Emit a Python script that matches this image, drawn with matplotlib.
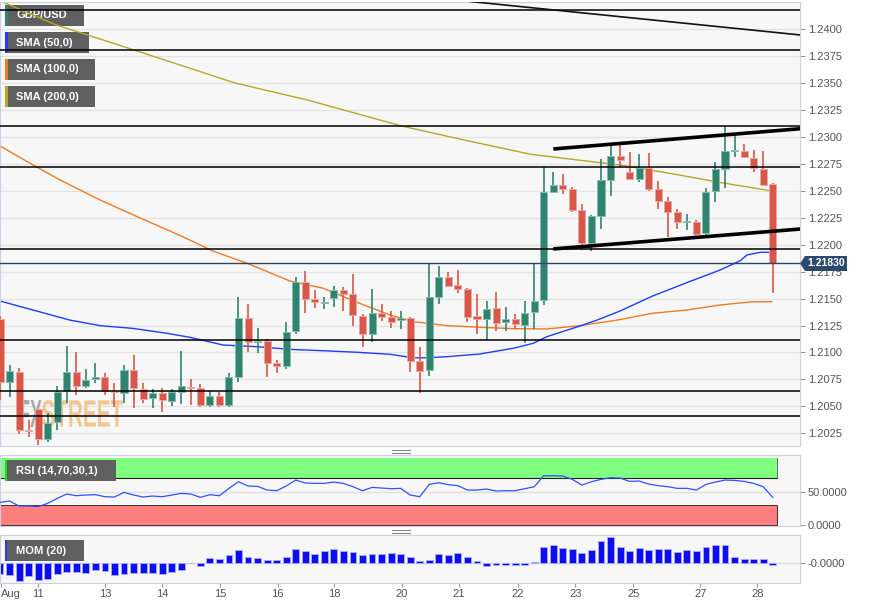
import matplotlib
matplotlib.use('Agg')
import pandas as pd
import matplotlib.pyplot as plt
from matplotlib.patches import Rectangle, Polygon, PathPatch
from matplotlib.lines import Line2D
from matplotlib.textpath import TextPath
from matplotlib.font_manager import FontProperties
from matplotlib.transforms import Affine2D

plt.rcParams['font.family'] = ['Liberation Sans', 'DejaVu Sans']
plt.rcParams['font.size'] = 8

W, H = 871, 608

# GBP/USD bougies 4h (open, high, low, close)
opens = [1.21311, 1.20729, 1.20822, 1.20278, 1.20475, 1.20197, 1.20357, 1.20645, 1.20816, 1.20692,
         1.20751, 1.20770, 1.20640, 1.20627, 1.20837, 1.20661, 1.20575, 1.20621, 1.20552, 1.20633,
         1.20682, 1.20667, 1.20512, 1.20599, 1.20512, 1.20775, 1.21323, 1.21094, 1.21109, 1.20905,
         1.20874, 1.21197, 1.21657, 1.21496, 1.21462, 1.21506, 1.21577, 1.21543, 1.21341, 1.21174,
         1.21366, 1.21326, 1.21301, 1.21317, 1.20921, 1.20837, 1.21512, 1.21703, 1.21626, 1.21589,
         1.21339, 1.21311, 1.21416, 1.21280, 1.21311, 1.21258, 1.21373, 1.21487, 1.22492, 1.22557,
         1.22515, 1.22323, 1.22013, 1.22270, 1.22601, 1.22827, 1.22673, 1.22608, 1.22715, 1.22515,
         1.22406, 1.22301, 1.22208, 1.22208, 1.22106, 1.22502, 1.22700, 1.22870, 1.22873, 1.22802,
         1.22703, 1.22561]
highs = [1.21339, 1.20884, 1.20859, 1.20373, 1.20475, 1.20441, 1.20692, 1.21060, 1.21002, 1.20844,
         1.20899, 1.20812, 1.20714, 1.20881, 1.20974, 1.20714, 1.20658, 1.20667, 1.20658, 1.21014,
         1.20751, 1.20705, 1.20642, 1.20633, 1.20807, 1.21512, 1.21450, 1.21224, 1.21122, 1.20930,
         1.21280, 1.21698, 1.21756, 1.21580, 1.21518, 1.21617, 1.21605, 1.21728, 1.21354, 1.21586,
         1.21447, 1.21385, 1.21385, 1.21332, 1.21054, 1.21828, 1.21803, 1.21744, 1.21766, 1.21601,
         1.21540, 1.21478, 1.21561, 1.21419, 1.21354, 1.21478, 1.21819, 1.22725, 1.22673, 1.22654,
         1.22539, 1.22376, 1.22276, 1.22793, 1.22923, 1.22929, 1.22864, 1.22840, 1.22849, 1.22595,
         1.22446, 1.22329, 1.22283, 1.22230, 1.22524, 1.22768, 1.23102, 1.23040, 1.22932, 1.22880,
         1.22873, 1.22570]
lows = [1.20559, 1.20587, 1.20243, 1.20215, 1.20141, 1.20172, 1.20280, 1.20534, 1.20605, 1.20667,
        1.20719, 1.20605, 1.20497, 1.20528, 1.20482, 1.20528, 1.20487, 1.20445, 1.20503, 1.20519,
        1.20512, 1.20497, 1.20494, 1.20494, 1.20494, 1.20729, 1.21007, 1.20992, 1.20770, 1.20807,
        1.20844, 1.21169, 1.21364, 1.21416, 1.21401, 1.21419, 1.21385, 1.21246, 1.21048, 1.21094,
        1.21289, 1.21224, 1.21218, 1.20822, 1.20627, 1.20784, 1.21447, 1.21605, 1.21549, 1.21280,
        1.21171, 1.21116, 1.21202, 1.21202, 1.21218, 1.21085, 1.21218, 1.21441, 1.22487, 1.22471,
        1.22307, 1.21951, 1.21942, 1.22143, 1.22455, 1.22725, 1.22601, 1.22585, 1.22502, 1.22329,
        1.22075, 1.22143, 1.22137, 1.22081, 1.22088, 1.22397, 1.22524, 1.22812, 1.22808, 1.22678,
        1.22548, 1.21549]
closes = [1.20726, 1.20828, 1.20280, 1.20271, 1.20197, 1.20348, 1.20636, 1.20816, 1.20692, 1.20744,
          1.20775, 1.20642, 1.20630, 1.20837, 1.20667, 1.20568, 1.20621, 1.20556, 1.20630, 1.20689,
          1.20667, 1.20512, 1.20596, 1.20512, 1.20775, 1.21323, 1.21094, 1.21109, 1.20905, 1.20874,
          1.21193, 1.21657, 1.21499, 1.21466, 1.21469, 1.21580, 1.21546, 1.21345, 1.21174, 1.21366,
          1.21326, 1.21280, 1.21317, 1.20921, 1.20828, 1.21518, 1.21703, 1.21620, 1.21589, 1.21332,
          1.21311, 1.21401, 1.21276, 1.21308, 1.21262, 1.21366, 1.21481, 1.22492, 1.22555, 1.22515,
          1.22323, 1.22013, 1.22267, 1.22601, 1.22827, 1.22787, 1.22608, 1.22715, 1.22515, 1.22409,
          1.22307, 1.22208, 1.22223, 1.22100, 1.22492, 1.22700, 1.22870, 1.22877, 1.22812, 1.22710,
          1.22555, 1.21830]

# Moyennes mobiles (points lus: indice de bougie, prix)
sma50_x = [0, 7.3, 10.5, 13.9, 17.5, 19.9, 23.4, 26.9, 30.4, 33.9, 37.4, 40.9, 43.3, 44.8, 46.9,
           50.3, 53.8, 55.9, 57.3, 60.8, 62.6, 65.0, 68.4, 72.0, 75.5, 77.6, 78.3, 79.7, 80.9]
sma50_y = [1.21478, 1.21301, 1.21249, 1.21224, 1.21178, 1.21141, 1.21069, 1.21054, 1.21029, 1.21016,
           1.21002, 1.20983, 1.20951, 1.20951, 1.20961, 1.20986, 1.21039, 1.21085, 1.21146, 1.21246,
           1.21301, 1.21385, 1.21524, 1.21648, 1.21766, 1.21852, 1.21905, 1.21930, 1.21930]
sma100_x = [0, 3.1, 6.3, 10.5, 14.7, 17.8, 19.9, 22.3, 25.9, 30.4, 33.9, 37.4, 40.9, 43.3, 46.9,
            50.3, 53.8, 57.3, 60.8, 64.7, 68.4, 72.0, 75.5, 78.9, 80.9]
sma100_y = [1.22917, 1.22759, 1.22601, 1.22415, 1.22248, 1.22128, 1.22044, 1.21942, 1.21828, 1.21663,
            1.21596, 1.21466, 1.21348, 1.21286, 1.21249, 1.21234, 1.21221, 1.21218, 1.21249, 1.21301,
            1.21364, 1.21394, 1.21441, 1.21471, 1.21471]
sma200_x = [0, 5.9, 14.7, 24.6, 32.2, 42.1, 48.3, 55.6, 59.7, 65.0, 70.2, 75.5, 80.9]
sma200_y = [1.24263, 1.24040, 1.23789, 1.23502, 1.23344, 1.23102, 1.22979, 1.22840, 1.22796, 1.22740,
            1.22663, 1.22578, 1.22499]

rsi = [34, 36, 28.5, 28.5, 27.5, 32.5, 40, 46.5, 44, 45,
       45.5, 42.5, 42, 49, 45, 42, 43.5, 42.5, 45, 47.5,
       46.5, 41.5, 45.5, 44, 55, 65, 58.5, 58, 52.5, 51.5,
       58.5, 67.5, 63, 62.5, 62.5, 64.5, 62.5, 57.5, 51.5, 56.5,
       55.5, 54.5, 55, 45, 42.5, 61, 63.5, 60.5, 59, 52.5,
       52.5, 54, 51, 51.5, 51.5, 54.5, 57.5, 74, 74, 73.5,
       68.5, 60, 65, 68.5, 71, 70.5, 65.5, 66, 61.5, 59,
       57.5, 55, 55, 52.5, 61, 64.5, 67.5, 67, 65.5, 62.5,
       57.5, 41.5]
mom = [-33, -38, -55, -41, -53, -48, -35, -28, -28, -31,
       -23, -26, -38, -33, -30, -30, -30, -33, -28, -23,
       -2, -11, 13, 10, 22, 37, 17, 12, 9, 7,
       17, 39, 34, 25, 33, 40, 35, 32, 22, 25,
       25, 29, 26, 15, 5, 9, 24, 22, 27, 17,
       5, -9, -6, -6, -8, -8, 1, 45, 52, 44,
       39, 27, 37, 65, 77, 47, 35, 42, 37, 41,
       40, 32, 37, 34, 47, 52, 53, 15, 10, 10,
       10, -8]

# niveaux et lignes de tendance
levels = [1.24176, 1.23808, 1.23100, 1.22719, 1.21958, 1.21116, 1.20640, 1.20410]
trend_x, trend_y = [47.7, 83.9], [1.24272, 1.23947]
chan_x = [58.0, 83.9]
chan_up = [1.22889, 1.23077]
chan_low = [1.21961, 1.22146]
last_price = 1.21830

price_ticks = [1.2025, 1.2050, 1.2075, 1.2100, 1.2125, 1.2150, 1.2175, 1.2200,
               1.2225, 1.2250, 1.2275, 1.2300, 1.2325, 1.2350, 1.2375, 1.2400]
day_pos = [0.1, 4.0, 11.0, 17.0, 23.1, 29.1, 35.0, 42.1, 48.1, 54.3, 60.3, 66.4, 73.4, 79.4]
day_labels = ['Aug', '11', '13', '14', '15', '16', '18', '20', '21', '22', '23', '25', '27', '28']

df = pd.DataFrame({'open': opens, 'high': highs, 'low': lows, 'close': closes})

GREEN, RED = '#30846f', '#d8574a'
BG = '#f7f7f7'
BORDER = '#c9d1e3'
XLIM = (0.0, 83.86)

fig = plt.figure(figsize=(W / 100, H / 100), dpi=100)


def px_axes(x0, y0, x1, y1):
    a = fig.add_axes([x0 / W, 1 - y1 / H, (x1 - x0) / W, (y1 - y0) / H])
    a.set_facecolor(BG)
    for s in a.spines.values():
        s.set_color(BORDER)
    a.set_xlim(*XLIM)
    a.yaxis.tick_right()
    a.tick_params(axis='y', length=3.5, color='#999999', labelcolor='#555555', pad=2, labelsize=8)
    return a


def tag(a, text, x0, x1, y0, y1, stripe):
    a.add_patch(Rectangle((x0 / W, 1 - y1 / H), (x1 - x0) / W, (y1 - y0) / H,
                          transform=fig.transFigure, fc='#5f5f5f', ec='none', zorder=1.5))
    a.add_patch(Rectangle((x0 / W, 1 - y1 / H), 2.5 / W, (y1 - y0) / H,
                          transform=fig.transFigure, fc=stripe, ec='none', zorder=1.6))
    a.text((x0 + 11) / W, 1 - (y0 + y1) / 2 / H, text, transform=fig.transFigure,
           color='white', fontsize=8, fontweight='bold', va='center', zorder=1.7)


# ---- graphique principal
ax = px_axes(0, 2, 800, 446)
ax.set_ylim(1.20132, 1.24253)
ax.set_yticks(price_ticks)
ax.set_yticklabels(['%.4f' % t for t in price_ticks])
ax.set_xticks([])
for t in price_ticks:
    ax.axhline(t, color='#e3e3e3', lw=1, zorder=0.3)

# filigrane FXSTREET
fp = FontProperties(family='Liberation Sans', weight='bold')
for txt, x0, x1, col in [('FX', 20, 42, '#a9a9a9'), ('STREET', 42, 123, '#f2c591')]:
    tp = TextPath((0, 0), txt, prop=fp, size=10)
    bb = tp.get_extents()
    tr = Affine2D().translate(-bb.x0, -bb.y0).scale((x1 - x0) / bb.width, 27 / bb.height).translate(x0, H - 427)
    ax.add_patch(PathPatch(tp, transform=tr, fc=col, ec='none', zorder=0.5))

ax.plot(sma200_x, sma200_y, color='#b9a628', lw=1, zorder=2)
ax.plot(sma100_x, sma100_y, color='#f07a22', lw=1, zorder=2)
ax.plot(sma50_x, sma50_y, color='#1f3cff', lw=1, zorder=2)

for i, r in df.iterrows():
    up = r['close'] >= r['open']
    col = GREEN if up else RED
    edge = '#86bcae' if up else '#eea79e'
    ax.vlines(i, r['low'], r['high'], color=col, lw=1.2, zorder=3)
    ax.bar(i, max(abs(r['close'] - r['open']), 0.00009), bottom=min(r['open'], r['close']),
           width=0.74, color=col, edgecolor=edge, linewidth=0.7, zorder=3.1)

for lv in levels:
    ax.axhline(lv, color='black', lw=1.1, zorder=4)
ax.axhline(last_price, color='#2d4266', lw=1, zorder=4)
ax.plot(trend_x, trend_y, color='#111111', lw=1.2, zorder=4.5)
ax.plot(chan_x, chan_up, color='black', lw=2.6, zorder=5, solid_capstyle='butt')
ax.plot(chan_x, chan_low, color='black', lw=2.6, zorder=5, solid_capstyle='butt')

tag(ax, 'GBP/USD', 5, 84, 5, 26, GREEN)
tag(ax, 'SMA (50,0)', 5, 89, 32, 53, '#1f3cff')
tag(ax, 'SMA (100,0)', 5, 95, 59, 80, '#f07a22')
tag(ax, 'SMA (200,0)', 5, 95, 86, 107, '#b9a628')

# ---- RSI
ax_rsi = px_axes(0, 455, 800, 526)
ax_rsi.set_ylim(-1.5, 105.1)
ax_rsi.set_xticks([])
ax_rsi.set_yticks([0, 50])
ax_rsi.set_yticklabels(['0.0000', '50.0000'])
ax_rsi.axhline(50, color='#e0e0e0', lw=1, zorder=0.5)
ax_rsi.add_patch(Rectangle((-1, 70), 82.5, 30, fc='#80ff80', ec='none', zorder=1))
ax_rsi.add_patch(Rectangle((-1, 0), 82.5, 30, fc='#ff7f7f', ec='#333333', lw=0.7, zorder=1))
ax_rsi.plot([-1, 81.5], [70, 70], color='#222222', lw=0.8, zorder=1.2)
ax_rsi.plot([81.5, 81.5], [70, 100], color='#555555', lw=0.6, zorder=1.2)
ax_rsi.plot(range(len(rsi)), rsi, color='#3050ff', lw=0.9, zorder=3)
tag(ax_rsi, 'RSI (14,70,30,1)', 4.5, 115.5, 460, 481, '#22dd22')

# ---- Momentum
ax_mom = px_axes(0, 535, 800, 583)
ax_mom.set_ylim(-61, 82)
ax_mom.set_yticks([0])
ax_mom.set_yticklabels(['-0.0000'])
ax_mom.axhline(0, color='#dddddd', lw=1, zorder=0.5)
ax_mom.bar(range(len(mom)), mom, width=0.72, color='#0d0df2', edgecolor='#a8b0ff', linewidth=0.6, zorder=2)
ax_mom.set_xticks(day_pos)
ax_mom.set_xticklabels(day_labels)
ax_mom.tick_params(axis='x', length=3, color='#999999', labelcolor='#555555', pad=1.5, labelsize=8)
ax_mom.get_xticklabels()[0].set_horizontalalignment('left')
tag(ax_mom, 'MOM (20)', 4.5, 84, 540, 561, '#1f3cff')

# poignées de redimensionnement
for yy in [450, 452.5, 530, 532.5]:
    fig.add_artist(Line2D([392 / W, 410 / W], [1 - yy / H, 1 - yy / H], color='#8a8a8a', lw=0.8))

# étiquette du dernier prix
y_lp = 263.5
fig.add_artist(Polygon([[800 / W, 1 - y_lp / H], [805 / W, 1 - (y_lp - 7.5) / H], [805 / W, 1 - (y_lp + 7.5) / H]],
                       closed=True, fc='#2d4a6e', ec='none', transform=fig.transFigure, zorder=5))
fig.add_artist(Rectangle((805 / W, 1 - (y_lp + 7.5) / H), 42 / W, 15 / H, fc='#2d4a6e', ec='none',
                         transform=fig.transFigure, zorder=5))
fig.text(826 / W, 1 - y_lp / H, '%.5f' % last_price, color='white', fontsize=7.5, fontweight='bold',
         ha='center', va='center', zorder=6)

fig.savefig('out.png', dpi=100, facecolor='white')
